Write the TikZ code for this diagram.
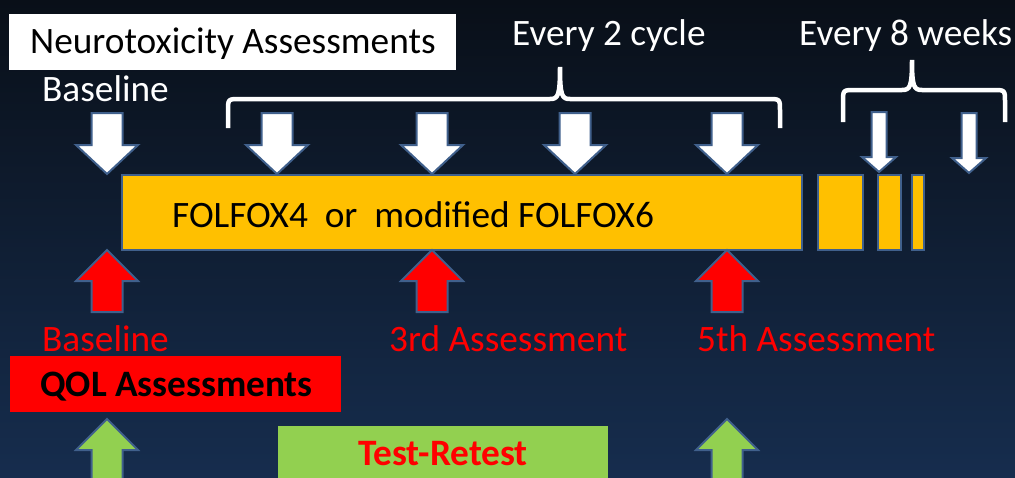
\documentclass[tikz,border=0pt]{standalone}
\usepackage{fontspec}
\setmainfont{Carlito}
\definecolor{bgtop}{RGB}{9,15,24}
\definecolor{bgbot}{RGB}{22,45,78}
\definecolor{edgeblue}{RGB}{64,96,140}
\definecolor{boxorange}{RGB}{255,192,0}
\definecolor{qolred}{RGB}{255,0,0}
\definecolor{retestgreen}{RGB}{146,208,80}
\tikzset{
  txt/.style={anchor=base west, inner sep=0pt, font=\fontsize{37.3}{41}\selectfont},
  btxt/.style={txt, font=\fontsize{37.3}{41}\selectfont\bfseries},
  arrowedge/.style={draw=edgeblue, line width=2pt, line join=miter},
  bar/.style={draw=edgeblue, line width=1.8pt, fill=boxorange},
  brace/.style={draw=white, line width=4.5pt},
  whitedown/.pic={\path[arrowedge, fill=white] (0,0) -- (-31,-29) -- (-15.5,-29) -- (-15.5,-61) -- (15.5,-61) -- (15.5,-29) -- (31,-29) -- cycle;},
  smalldown/.pic={\path[arrowedge, fill=white] (0,0) -- (-17,-15) -- (-7.5,-15) -- (-7.5,-60) -- (7.5,-60) -- (7.5,-15) -- (17,-15) -- cycle;},
  redup/.pic={\path[arrowedge, fill=qolred] (0,0) -- (-31,31) -- (-15.5,31) -- (-15.5,62) -- (15.5,62) -- (15.5,31) -- (31,31) -- cycle;},
  greenup/.pic={\path[arrowedge, fill=retestgreen] (0,0) -- (-31,31) -- (-15.5,31) -- (-15.5,70) -- (15.5,70) -- (15.5,31) -- (31,31) -- cycle;}
}
\begin{document}
\begin{tikzpicture}[x=1pt,y=-1pt]
\useasboundingbox (0,0) rectangle (1015,477);
\clip (0,0) rectangle (1015,477);
\shade[top color=bgtop, bottom color=bgbot] (0,0) rectangle (1015,477);

% Neurotoxicity box
\fill[white] (9,14) rectangle (456,70);
\node[txt, text=black] (neuro) at (30,53) {Neurotoxicity Assessments};
\node[txt, text=white] (base1) at (42,101) {Baseline};
\node[txt, text=white] (every2) at (512,45) {Every 2 cycle};
\node[txt, text=white] (every8) at (799,45) {Every 8 weeks};

% braces
\draw[brace] (228,128) -- (228,111) .. controls (228,99) .. (240,99) -- (550,99) .. controls (558,99) and (560,96) .. (560,67) .. controls (560,96) and (562,99) .. (570,99) -- (768,99) .. controls (780,99) .. (780,111) -- (780,128);
\draw[brace] (843,122) -- (843,102) .. controls (843,90) .. (855,90) -- (902,90) .. controls (910,90) and (912,87) .. (912,60) .. controls (912,87) and (914,90) .. (922,90) -- (993,90) .. controls (1005,90) .. (1005,102) -- (1005,122);

% treatment bars
\path[bar] (122,175) rectangle (802,250);
\path[bar] (818,175) rectangle (863,250);
\path[bar] (878,175) rectangle (901,250);
\path[bar] (912,175) rectangle (924,250);
\node[txt, text=black] (folfox) at (172,227) {FOLFOX4\ \ or\ \ modified FOLFOX6};

% white down arrows
\pic (w1) at (107,174) {whitedown};
\pic (w2) at (277,174) {whitedown};
\pic (w3) at (432,174) {whitedown};
\pic (w4) at (575,174) {whitedown};
\pic (w5) at (727,174) {whitedown};
\pic (s1) at (879,172) {smalldown};
\pic (s2) at (969,173) {smalldown};

% red up arrows
\pic (r1) at (107,250) {redup};
\pic (r2) at (432,250) {redup};
\pic (r3) at (727,250) {redup};

\node[txt, text=qolred] (rbase) at (42,351) {Baseline};
\node[txt, text=qolred] (r3rd) at (389,351) {3rd Assessment};
\node[txt, text=qolred] (r5th) at (697,351) {5th Assessment};

% QOL box
\fill[qolred] (10,356) rectangle (341,412);
\node[btxt, text=black] (qol) at (40,396) {QOL Assessments};

% green arrows and test-retest
\pic (g1) at (107,419) {greenup};
\pic (g2) at (727,419) {greenup};
\fill[retestgreen] (278,426) rectangle (608,485);
\node[btxt, text=qolred] (retest) at (358,465) {Test-Retest};
\end{tikzpicture}
\end{document}
